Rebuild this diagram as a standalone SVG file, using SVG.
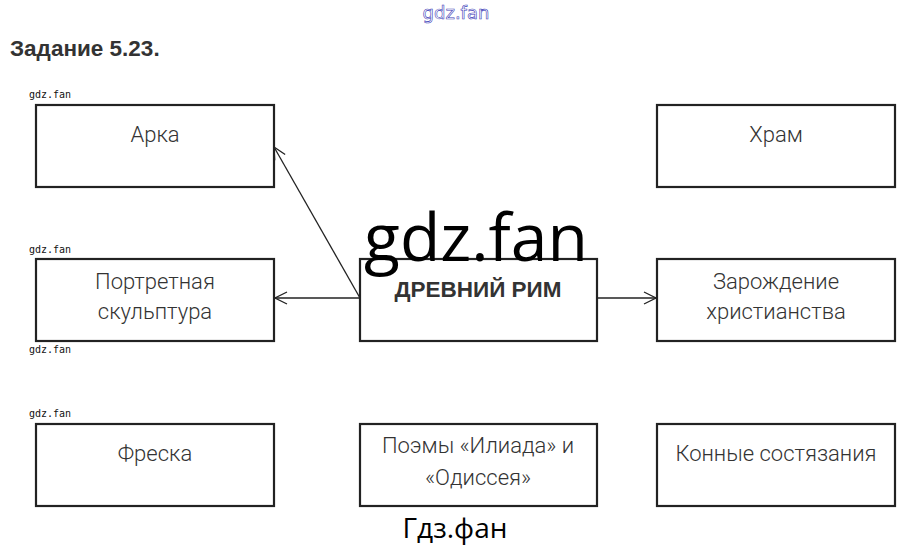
<svg xmlns="http://www.w3.org/2000/svg" width="909" height="547" viewBox="0 0 909 547">
<defs>
<style>
.box{fill:#fff;stroke:#222;stroke-width:2.2}
.lbl{font-family:Roboto,"Liberation Sans",sans-serif;font-weight:300;font-size:22px;fill:#333;text-anchor:middle}
.wm{font-family:"DejaVu Sans Mono",monospace;font-size:10px;fill:#111}
.con{stroke:#222;stroke-width:1.3;fill:none}
</style>
<marker id="arr" viewBox="0 0 14 14" refX="13" refY="7" markerWidth="14" markerHeight="14" markerUnits="userSpaceOnUse" orient="auto">
<path d="M1,1 L13,7 L1,13" fill="none" stroke="#222" stroke-width="1.3"/>
</marker>
</defs>
<rect width="909" height="547" fill="#fff"/>
<text x="456" y="19" font-family="DejaVu Sans,sans-serif" font-size="18" fill="#fff" stroke="#4040b8" stroke-width="0.6" text-anchor="middle">gdz.fan</text>
<text x="10" y="56" font-family="Liberation Sans,Arial,sans-serif" font-weight="bold" font-size="22.5" fill="#333">Задание 5.23.</text>
<text class="wm" x="29" y="98">gdz.fan</text>
<text class="wm" x="29" y="253">gdz.fan</text>
<text class="wm" x="29" y="353">gdz.fan</text>
<text class="wm" x="29" y="417">gdz.fan</text>
<g id="connectors">
<line class="con" x1="360" y1="298" x2="274" y2="147" marker-end="url(#arr)"/>
<line class="con" x1="360" y1="298" x2="275" y2="298" marker-end="url(#arr)"/>
<line class="con" x1="597" y1="298" x2="656" y2="298" marker-end="url(#arr)"/>
</g>
<g id="node-arka"><rect class="box" x="36" y="105" width="238" height="82"/><text class="lbl" x="155" y="142">Арка</text></g>
<g id="node-hram"><rect class="box" x="657" y="105" width="238" height="82"/><text class="lbl" x="776" y="142">Храм</text></g>
<g id="node-portret"><rect class="box" x="36" y="259" width="238" height="82"/><text class="lbl" x="155" y="289">Портретная</text><text class="lbl" x="155" y="319">скульптура</text></g>
<g id="node-rim"><rect class="box" x="360" y="259" width="237" height="82"/><text x="478" y="297" font-family="Liberation Sans,Arial,sans-serif" font-weight="bold" font-size="22.5" fill="#333" text-anchor="middle">ДРЕВНИЙ РИМ</text></g>
<g id="node-christ"><rect class="box" x="657" y="259" width="238" height="82"/><text class="lbl" x="776" y="289">Зарождение</text><text class="lbl" x="776" y="319">христианства</text></g>
<g id="node-freska"><rect class="box" x="36" y="424" width="238" height="82"/><text class="lbl" x="155" y="461">Фреска</text></g>
<g id="node-poemy"><rect class="box" x="360" y="424" width="237" height="82"/><text class="lbl" x="478" y="453">Поэмы «Илиада» и</text><text class="lbl" x="478" y="485">«Одиссея»</text></g>
<g id="node-koni"><rect class="box" x="657" y="424" width="238" height="82"/><text class="lbl" x="776" y="461">Конные состязания</text></g>
<text x="476" y="261" font-family="Open Sans,sans-serif" font-size="66" fill="#000" text-anchor="middle">gdz.fan</text>
<text x="455" y="538" font-family="Open Sans,sans-serif" font-size="28" fill="#000" text-anchor="middle">Гдз.фан</text>
</svg>
